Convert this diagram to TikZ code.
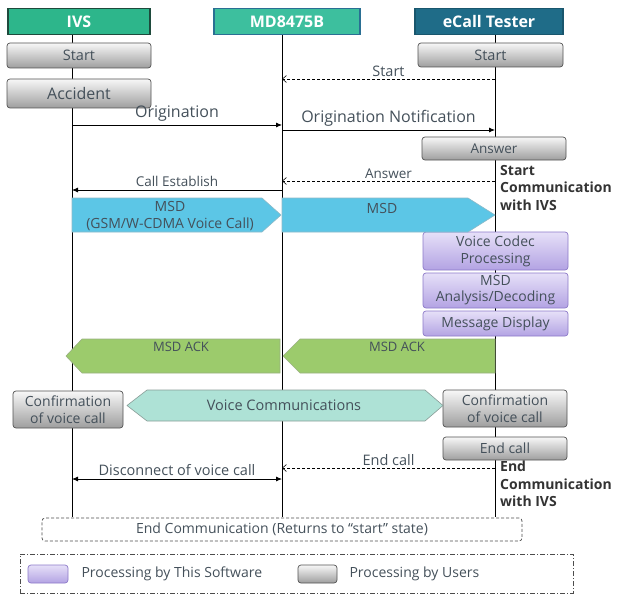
\documentclass[tikz,border=0pt]{standalone}
\usepackage{fontspec}
\setmainfont{Open Sans}
\usetikzlibrary{arrows.meta}
\definecolor{ivsgreen}{HTML}{2DB68B}
\definecolor{ivsedge}{HTML}{1E4A3C}
\definecolor{mdgreen}{HTML}{3DBF9E}
\definecolor{mdedge}{HTML}{2A6F93}
\definecolor{ecblue}{HTML}{1F6C88}
\definecolor{msdblue}{HTML}{5CC6E6}
\definecolor{ackgreen}{HTML}{9CCB6C}
\definecolor{voiceteal}{HTML}{AEE2D6}
\definecolor{softtop}{HTML}{E6E0F8}
\definecolor{softbot}{HTML}{B3A3E3}
\definecolor{softedge}{HTML}{8C79C8}
\definecolor{txt}{HTML}{44505A}

\begin{document}
\begin{tikzpicture}[x=1pt, y=-1pt,
    every node/.style={text=txt, font=\fontsize{14.5}{17}\selectfont},
    header/.style={draw, line width=1.6pt, text=white, inner sep=0pt,
        font=\fontsize{16}{18}\selectfont\bfseries, minimum height=26pt},
    userbox/.style={draw=black!68, line width=0.7pt, rounded corners=3pt, top color=black!3,
        bottom color=black!38, inner sep=0pt, align=center},
    softbox/.style={draw=softedge, line width=0.7pt, rounded corners=3pt, top color=softtop,
        bottom color=softbot, inner sep=0pt, align=center},
    msg/.style={-{Latex[length=6pt,width=5pt]}, line width=0.8pt, black},
    reply/.style={-{Straight Barb[length=4pt,width=7pt]}, dash pattern=on 3pt off 2pt, line width=0.6pt, black},
    both/.style={{Latex[length=6pt,width=5pt]}-{Latex[length=6pt,width=5pt]}, line width=0.8pt, black},
    block/.style={line width=0.6pt},
    sidenote/.style={anchor=north west, align=left, inner sep=0pt, text=black!80,
        font=\fontsize{14}{17.5}\selectfont\bfseries}]
        \useasboundingbox (0,0) rectangle (617,596);

        % Lifelines
        \coordinate (ivsT) at (72,35);   \coordinate (ivsB) at (72,517);
        \coordinate (mdT) at (282,35);   \coordinate (mdB) at (282,517);
        \coordinate (ecT) at (495,35);   \coordinate (ecB) at (495,517);
        \draw[line width=0.8pt] (ivsT) -- (ivsB);
        \draw[line width=0.8pt] (mdT) -- (mdB);
        \draw[line width=0.8pt] (ecT) -- (ecB);

        % Draw headers
        \node[header, fill=ivsgreen, draw=ivsedge, minimum width=142pt] (ivs) at (79,21.5) {IVS};
        \node[header, fill=mdgreen, draw=mdedge, minimum width=146pt] (md) at (287,21.5) {MD8475B};
        \node[header, fill=ecblue, draw=ecblue!80!black, minimum width=148pt] (ec) at (489,21.5) {eCall Tester};

        % Draw nodes
        \node[userbox, minimum width=144pt, minimum height=25pt] (ivsstart) at (79,55.5) {Start};
        \node[userbox, minimum width=144pt, minimum height=29pt, font=\fontsize{16}{18}\selectfont] (accident) at (79,93.5) {Accident};
        \node[userbox, minimum width=145pt, minimum height=24pt] (ecstart) at (490.5,55) {Start};
        \node[userbox, minimum width=144pt, minimum height=23pt, font=\fontsize{13.5}{15}\selectfont] (answer) at (494,148.5) {Answer};
        \node[softbox, minimum width=145pt, minimum height=38pt, font=\fontsize{14}{17}\selectfont] (codec) at (495.5,251) {Voice Codec\\Processing};
        \node[softbox, minimum width=145pt, minimum height=35pt, font=\fontsize{14}{16}\selectfont] (analysis) at (495.5,290.5) {MSD\\Analysis/Decoding};
        \node[softbox, minimum width=145pt, minimum height=25pt, font=\fontsize{14}{16}\selectfont] (display) at (495.5,323.5) {Message Display};
        \node[userbox, minimum width=110pt, minimum height=37pt, font=\fontsize{14}{17}\selectfont] (confivs) at (68,409.5) {Confirmation\\of voice call};
        \node[userbox, minimum width=124pt, minimum height=37pt, font=\fontsize{14}{17}\selectfont] (confec) at (505,408.5) {Confirmation\\of voice call};
        \node[userbox, minimum width=124pt, minimum height=23pt, font=\fontsize{14}{16}\selectfont] (endcall) at (505,448.5) {End call};

        % Draw connections
        \draw[reply] (ecT |- 0,79) -- (mdT |- 0,79) node[midway, above, yshift=-1pt] {Start};
        \draw[msg] (ivsT |- 0,125) -- (mdT |- 0,125) node[midway, above, font=\fontsize{16}{18}\selectfont] {Origination};
        \draw[msg] (mdT |- 0,130) -- (ecT |- 0,130) node[midway, above, font=\fontsize{16}{18}\selectfont] {Origination Notification};
        \draw[reply] (ecT |- 0,181) -- (mdT |- 0,181) node[midway, above, yshift=-1pt, font=\fontsize{13.5}{15}\selectfont] {Answer};
        \draw[msg] (mdT |- 0,190) -- (ivsT |- 0,190) node[midway, above, font=\fontsize{13.5}{15}\selectfont] {Call Establish};
        \draw[reply] (ecT |- 0,468) -- (mdT |- 0,468) node[midway, above, yshift=-1pt] {End call};
        \draw[both] (ivsT |- 0,479) -- (mdT |- 0,479) node[midway, above] {Disconnect of voice call};

        % Block arrows
        \draw[block, fill=msdblue, draw=msdblue!70!black!60] (72,198) -- (262,198) -- (281,215) -- (262,232) -- (72,232) -- cycle;
        \node[align=center, font=\fontsize{14}{16.5}\selectfont] (msd1) at (170,216) {MSD\\(GSM/W-CDMA Voice Call)};
        \draw[block, fill=msdblue, draw=msdblue!70!black!60] (282,198) -- (468,198) -- (495,215) -- (468,232) -- (282,232) -- cycle;
        \node[font=\fontsize{14}{16}\selectfont] (msd2) at (382,208) {MSD};
        \draw[block, fill=ackgreen, draw=ackgreen!70!black!70] (280,339) -- (82,339) -- (66,356) -- (82,373) -- (280,373) -- cycle;
        \node[font=\fontsize{13}{15}\selectfont] (ack1) at (181,347) {MSD ACK};
        \draw[block, fill=ackgreen, draw=ackgreen!70!black!70] (495,339) -- (300,339) -- (283,356) -- (300,373) -- (495,373) -- cycle;
        \node[font=\fontsize{13}{15}\selectfont] (ack2) at (397,347) {MSD ACK};
        \draw[block, fill=voiceteal, draw=voiceteal!50!black!70] (147,390) -- (425,390) -- (443,405.5) -- (425,421) -- (147,421) -- (127,405.5) -- cycle;
        \node (voice) at (284,405.5) {Voice Communications};

        % Labels
        \node[sidenote] (startnote) at (500,165) {Start\\Communication\\with IVS};
        \node[sidenote] (endnote) at (500,461) {End\\Communication\\with IVS};

        % End state and legend
        \node[draw=black!70, dash pattern=on 3pt off 2pt, rounded corners=3pt, line width=0.7pt, minimum width=480pt, minimum height=23pt,
            font=\fontsize{14}{16}\selectfont] (endcomm) at (282,529.5) {End Communication (Returns to “start” state)};
        \node[draw=black!70, dash pattern=on 5pt off 2pt on 1pt off 2pt, line width=0.7pt, minimum width=553pt, minimum height=39pt] (legend) at (296.5,573.5) {};
        \node[softbox, minimum width=40pt, minimum height=18pt] (swsoft) at (48,574) {};
        \node[anchor=west, font=\fontsize{14}{16}\selectfont] (lgsoft) at (78,574) {Processing by This Software};
        \node[userbox, minimum width=39pt, minimum height=18pt] (swuser) at (317.5,574) {};
        \node[anchor=west, font=\fontsize{14}{16}\selectfont] (lguser) at (346,574) {Processing by Users};
    \end{tikzpicture}
\end{document}
